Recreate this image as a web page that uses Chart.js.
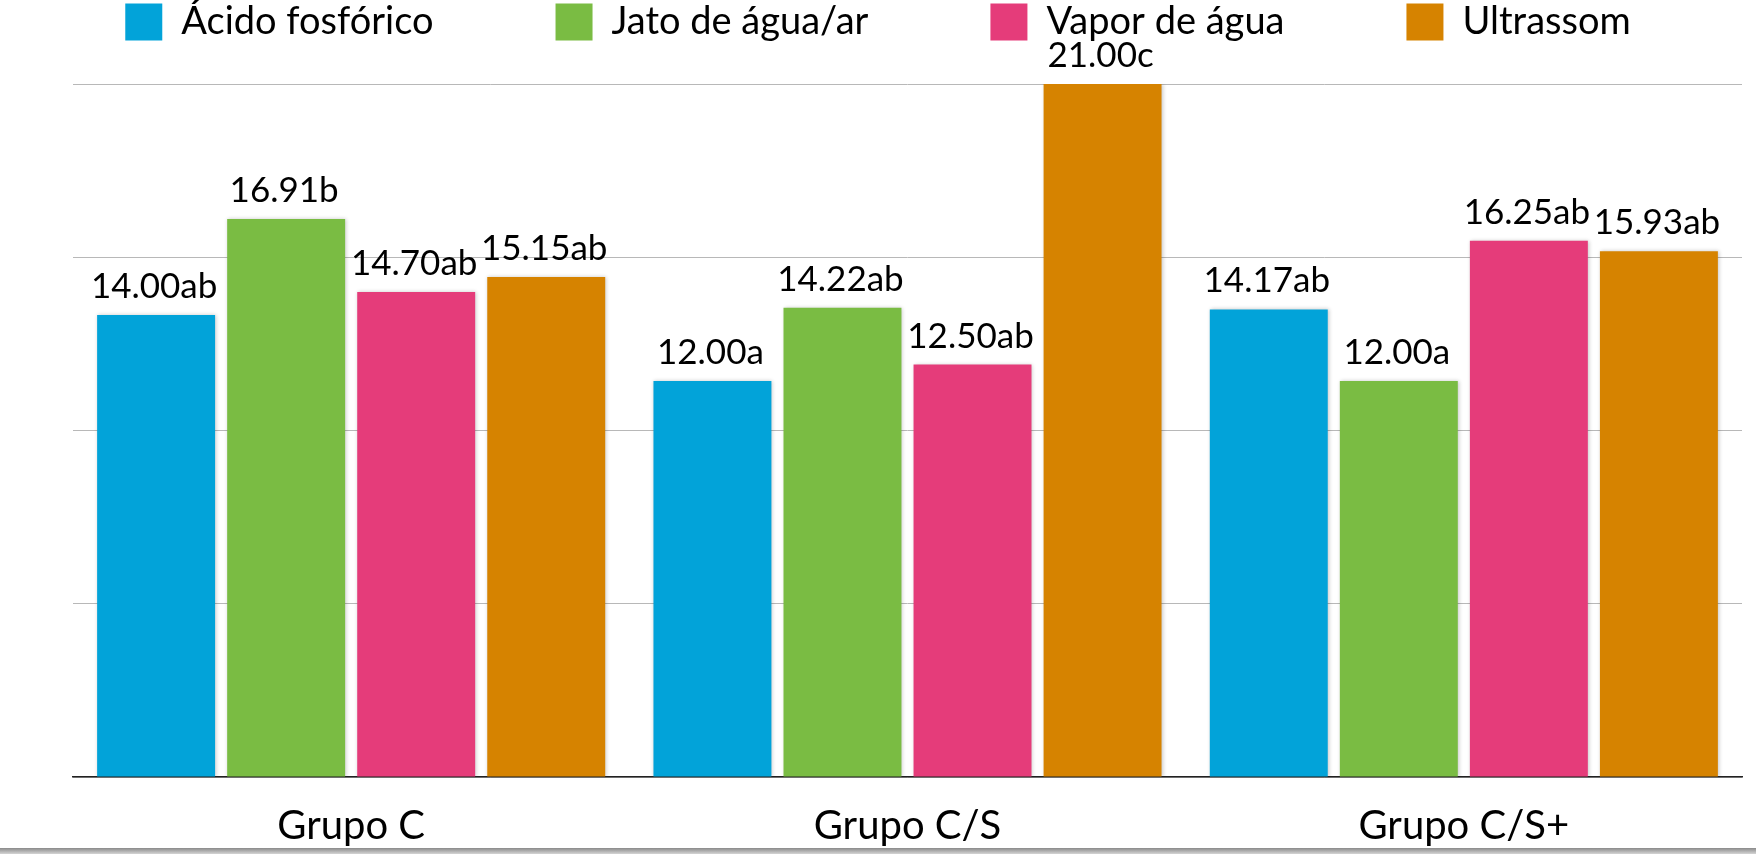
<!DOCTYPE html>
<html>
<head>
<meta charset="utf-8">
<title>Grupos</title>
<script src="https://cdn.jsdelivr.net/npm/chart.js@4.4.1/dist/chart.umd.min.js"></script>
<style>
    body { margin: 0; background: #fff; overflow: hidden; }
    #wrap { position: relative; width: 1756px; height: 854px; }
    #shade { position: absolute; left: 0; right: 0; bottom: 0; height: 6px; background: linear-gradient(#8a8a8a, #d4d4d4); }
</style>
</head>
<body>
<div id="wrap">
    <canvas id="displayGraph"></canvas>
    <div id="shade"></div>
</div>
<script>
const groups = ["Grupo C", "Grupo C/S", "Grupo C/S+"];
const seriesNames = ["Ácido fosfórico", "Jato de água/ar", "Vapor de água", "Ultrassom"];

const acido = [14.00, 12.00, 14.17];
const jato = [16.91, 14.22, 12.00];
const vapor = [14.70, 12.50, 16.25];
const ultrassom = [15.15, 21.00, 15.93];

// letras de significância
const acidoLetters = ["ab", "a", "ab"];
const jatoLetters = ["b", "ab", "a"];
const vaporLetters = ["ab", "ab", "ab"];
const ultrassomLetters = ["ab", "c", "ab"];

const colors = ["#02a3d9", "#7abc43", "#e53c7a", "#d68300"];

const allValues = [acido, jato, vapor, ultrassom];
const allLetters = [acidoLetters, jatoLetters, vaporLetters, ultrassomLetters];

Chart.defaults.font.family = "Lato";
Chart.defaults.color = "#000";

const legendPad = 122;

// rótulos em cima das barras
const barLabels = {
    id: "barLabels",
    afterDatasetsDraw(chart) {
        const ctx = chart.ctx;
        ctx.save();
        ctx.font = "35px Lato";
        ctx.fillStyle = "#000";
        ctx.textAlign = "center";
        ctx.textBaseline = "alphabetic";
        chart.data.datasets.forEach((ds, i) => {
            chart.getDatasetMeta(i).data.forEach((bar, j) => {
                ctx.fillText(ds.data[j].toFixed(2) + ds.letters[j], bar.x - 2, bar.y - 17);
            });
        });
        ctx.restore();
    }
};

const barShadow = {
    id: "barShadow",
    beforeDatasetDraw(chart) {
        const ctx = chart.ctx;
        ctx.save();
        ctx.shadowColor = "rgba(0,0,0,0.22)";
        ctx.shadowBlur = 4;
        ctx.shadowOffsetX = 1;
        ctx.shadowOffsetY = 0;
    },
    afterDatasetDraw(chart) {
        chart.ctx.restore();
    }
};

const myChart = new Chart("displayGraph", {
    type: "bar",
    data: {
        labels: groups,
        datasets: seriesNames.map((name, i) => ({
            label: name,
            data: allValues[i],
            letters: allLetters[i],
            backgroundColor: colors[i],
            borderWidth: 0,
            categoryPercentage: 0.935,
            barPercentage: 0.907
        }))
    },
    options: {
        responsive: true,
        maintainAspectRatio: false,
        animation: false,
        layout: {
            padding: { top: 3 - legendPad, left: 0, right: 0, bottom: 0 }
        },
        plugins: {
            tooltip: { enabled: false },
            legend: {
                position: "top",
                labels: {
                    boxWidth: 37,
                    boxHeight: 37,
                    padding: legendPad,
                    font: { size: 38 },
                    color: "#000"
                }
            }
        },
        scales: {
            gap: {
                type: "category",
                position: "top",
                grid: { display: false, drawTicks: false },
                border: { display: false },
                ticks: { display: false },
                afterFit: a => { a.height = 33; }
            },
            x: {
                grid: { display: false, drawTicks: false },
                border: { display: true, color: "#222", width: 1.5 },
                ticks: { font: { size: 40 }, padding: 25, color: "#000" },
                afterFit: a => { a.height = 77; }
            },
            y: {
                min: 0,
                max: 21,
                grid: { color: "#b8b8b8", lineWidth: 1, drawTicks: false },
                border: { display: false },
                ticks: { display: false, stepSize: 5.25 },
                afterFit: a => { a.width = 73; }
            },
            edge: {
                type: "linear",
                position: "right",
                grid: { display: false, drawTicks: false },
                border: { display: false },
                ticks: { display: false },
                afterFit: a => { a.width = 14; }
            }
        }
    },
    plugins: [barShadow, barLabels]
});
</script>
</body>
</html>
